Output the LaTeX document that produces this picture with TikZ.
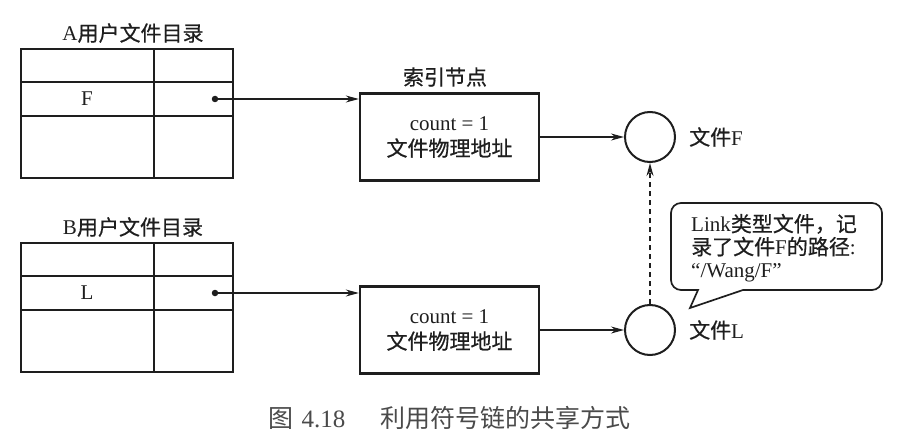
\documentclass[tikz,border=0pt]{standalone}
\usepackage{fontspec}
\setmainfont{Liberation Serif}
\newfontfamily\cjk{Noto Sans CJK SC}[FakeBold=0.6]
\newfontfamily\cjkthin{Noto Sans CJK SC}
\newcommand\zh[1]{{\cjk #1}}
\usetikzlibrary{arrows.meta,positioning}
\definecolor{ink}{HTML}{1E1E1E}
\definecolor{capgray}{HTML}{4A4A4A}
\tikzset{
  lbl/.style={inner sep=0pt, text=ink, font=\fontsize{21}{23}\selectfont},
  dirbox/.style={draw=ink, line width=2.4pt, minimum width=212pt, minimum height=129pt, inner sep=0pt},
  grid/.style={draw=ink, line width=1.5pt},
  inode/.style={draw=ink, line width=2.4pt, minimum width=179pt, minimum height=87pt,
    align=center, text=ink, font=\fontsize{21}{26}\selectfont},
  filenode/.style={circle, draw=ink, line width=2pt, minimum size=50pt, inner sep=0pt},
  ptr/.style={circle, fill=ink, minimum size=6.5pt, inner sep=0pt},
  link/.style={draw=ink, line width=1.3pt, -{Stealth[length=13pt,width=7pt]}},
}
\begin{document}
\begin{tikzpicture}[x=1pt, y=-1pt]
  \useasboundingbox (0,0) rectangle (898,444);
  % user directories
  \foreach \u/\dy/\e in {A/0/F, B/194/L} {
    \node[dirbox] (dir\u) at (127,113.5+\dy) {};
    \node[lbl] (title\u) at (133,33+\dy) {\u\zh{用户文件目录}};
    \draw[grid] (154,49+\dy) -- (154,178+\dy)
                (21,82+\dy) -- (233,82+\dy)
                (21,116+\dy) -- (233,116+\dy);
    \node[lbl] (name\u) at (87,99+\dy) {\e};
    \node[ptr] (ptr\u) at (215,99+\dy) {};
  }
  % index nodes
  \node[lbl] (inodetitle) at (445,77) {\zh{索引节点}};
  \node[inode] (inodeA) at (449.5,137) {count = 1\\\zh{文件物理地址}};
  \node[inode] (inodeB) at (449.5,330) {count = 1\\\zh{文件物理地址}};
  % files
  \node[filenode] (fileF) at (650,137) {};
  \node[filenode] (fileL) at (650,330) {};
  \node[lbl, right=13pt of fileF] (fileFlbl) {\zh{文件}F};
  \node[lbl, right=13pt of fileL] (fileLlbl) {\zh{文件}L};
  % note
  \node[lbl, anchor=west, align=left] (note) at (691,248)
    {Link\zh{类型文件，记}\\\zh{录了文件}F\zh{的路径}:\\“/Wang/F”};
  \draw[draw=ink, line width=1.7pt] (690,308) -- (698,290)
    [rounded corners=10pt] -- (671,290) -- (671,203) -- (882,203) -- (882,290)
    [sharp corners] -- (743,290) -- cycle;
  % links
  \draw[link] (ptrA) -- (inodeA.west |- ptrA);
  \draw[link] (ptrB) -- (inodeB.west |- ptrB);
  \draw[link] (inodeA) -- (fileF);
  \draw[link] (inodeB) -- (fileL);
  \draw[link, dash pattern=on 5pt off 4pt] (fileL) -- (fileF);
  % caption
  \node[inner sep=0pt, text=capgray, font=\fontsize{25}{27}\selectfont] (caption) at (449.5,418)
    {{\cjkthin 图}\hspace{8pt}4.18\hspace{35pt}{\cjkthin 利用符号链的共享方式}};
\end{tikzpicture}
\end{document}
